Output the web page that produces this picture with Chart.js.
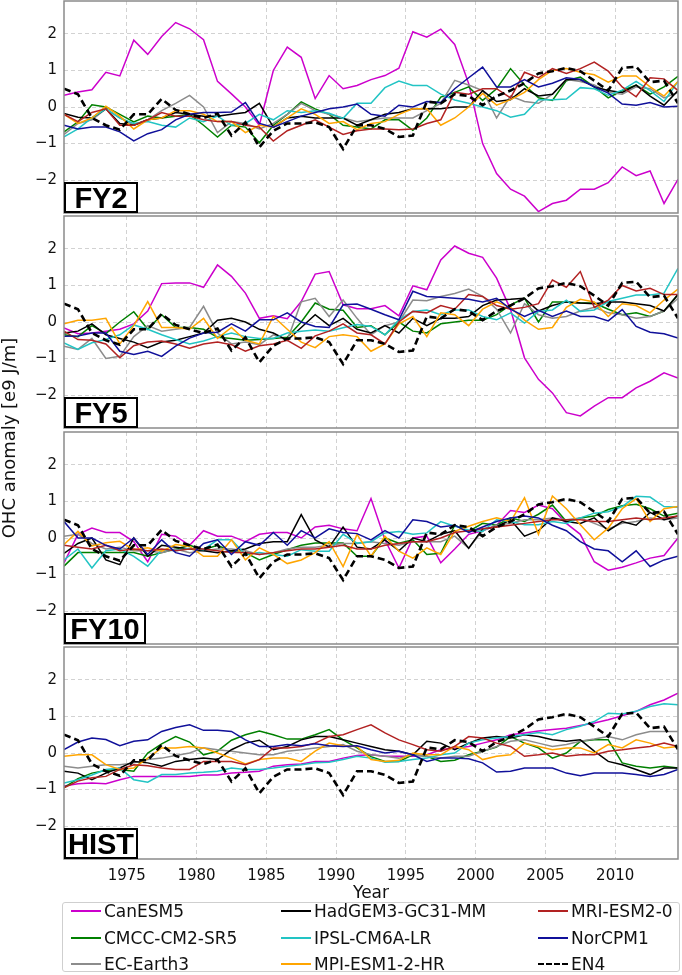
<!DOCTYPE html>
<html>
<head>
<meta charset="utf-8">
<script src="https://cdn.jsdelivr.net/npm/chart.js@4.4.1/dist/chart.umd.min.js"></script>
<style>
  body { margin: 0; background: #fff; font-family: "DejaVu Sans", sans-serif; }
  #wrap { position: relative; width: 682px; height: 975px; overflow: hidden; }
  #wrap canvas { position: absolute; left: 0; }
  .tag { position: absolute; left: 64px; height: 31px; box-sizing: border-box; border: 2px solid #000;
         background: #fff; font: bold 29px "Liberation Sans", sans-serif; line-height: 28px; text-align: center; z-index: 2; }
  #ylab { position: absolute; left: -141px; top: 427px; width: 300px; height: 22px; line-height: 22px;
          text-align: center; font-size: 18px; color: #111; transform: rotate(-90deg); }
  #legend { position: absolute; left: 62px; top: 902px; width: 618px; height: 70px; box-sizing: border-box;
            border: 1px solid #cfcfcf; border-radius: 3px; }
  .li { position: absolute; font-size: 17px; line-height: 22px; color: #111; white-space: nowrap; }
  .sw { position: absolute; width: 30px; height: 0; }
</style>
</head>
<body>
<div id="wrap">
  <canvas id="p0"></canvas>
  <canvas id="p1"></canvas>
  <canvas id="p2"></canvas>
  <canvas id="p3"></canvas>
  <div id="ylab">OHC anomaly [e9 J/m]</div>
  <div id="legend"></div>
</div>
<script>
const years = [1970.5, 1971.5, 1972.5, 1973.5, 1974.5, 1975.5, 1976.5, 1977.5, 1978.5, 1979.5,
  1980.5, 1981.5, 1982.5, 1983.5, 1984.5, 1985.5, 1986.5, 1987.5, 1988.5, 1989.5,
  1990.5, 1991.5, 1992.5, 1993.5, 1994.5, 1995.5, 1996.5, 1997.5, 1998.5, 1999.5,
  2000.5, 2001.5, 2002.5, 2003.5, 2004.5, 2005.5, 2006.5, 2007.5, 2008.5, 2009.5,
  2010.5, 2011.5, 2012.5, 2013.5, 2014.5];
const xTicks = [1975, 1980, 1985, 1990, 1995, 2000, 2005, 2010];
const yTicks = [-2, -1, 0, 1, 2];

const modelNames = ['CanESM5', 'CMCC-CM2-SR5', 'EC-Earth3', 'HadGEM3-GC31-MM', 'IPSL-CM6A-LR', 'MPI-ESM1-2-HR', 'MRI-ESM2-0', 'NorCPM1'];
const modelColors = ['#cc00cc', '#008000', '#8c8c8c', '#000000', '#22c4c4', '#ffa500', '#b22222', '#10109a'];
const panelTags = ['FY2', 'FY5', 'FY10', 'HIST'];

// observations (same in every panel)
const en4 = [0.5, 0.35, -0.3, -0.5, -0.62, -0.2, -0.2, 0.22, -0.08, -0.2, -0.3, -0.18, -0.78, -0.42, -1.1,
  -0.65, -0.45, -0.45, -0.42, -0.55, -1.15, -0.5, -0.5, -0.6, -0.82, -0.78, 0.15, 0.1, 0.35, 0.3,
  0.05, 0.3, 0.45, 0.65, 0.92, 0.98, 1.07, 0.98, 0.72, 0.45, 1.07, 1.1, 0.68, 0.72, 0.1];

// FY2
const fy2_CanESM5 = [0.32, 0.41, 0.47, 0.95, 0.85, 1.83, 1.44, 1.93, 2.31, 2.14, 1.84, 0.70, 0.36, 0.0, -0.5,
  1.0, 1.64, 1.36, 0.23, 0.86, 0.5, 0.59, 0.75, 0.86, 1.06, 2.06, 1.91, 2.13, 1.71, 0.64,
  -1.0, -1.82, -2.25, -2.44, -2.86, -2.64, -2.55, -2.25, -2.25, -2.07, -1.64, -1.88, -1.75, -2.64, -1.98];
const fy2_CMCC = [-0.68, -0.41, 0.06, 0.0, -0.2, -0.41, -0.25, -0.3, -0.25, -0.2, -0.5, -0.82, -0.5, -0.55, -0.98,
  -0.5, -0.2, 0.14, -0.05, -0.2, -0.5, -0.55, -0.6, -0.35, -0.35, -0.64, -0.3, 0.27, 0.4, 0.55,
  0.18, 0.5, 1.05, 0.6, 0.25, 0.18, 0.72, 0.82, 0.55, 0.25, 0.45, 0.6, 0.35, 0.55, 0.84];
const fy2_EC = [-0.75, -0.45, -0.35, -0.05, -0.3, -0.5, -0.35, -0.1, 0.1, 0.32, 0.0, -0.7, -0.4, -0.45, -0.6,
  -0.45, -0.2, 0.1, -0.1, -0.2, -0.3, -0.4, -0.35, -0.3, -0.3, -0.3, -0.1, 0.1, 0.73, 0.6,
  0.45, -0.3, 0.3, 0.15, 0.1, 0.35, 0.75, 0.7, 0.6, 0.4, 0.35, 0.55, 0.5, 0.25, 0.4];
const fy2_Had = [-0.18, -0.28, -0.3, -0.05, -0.45, -0.5, -0.35, -0.3, -0.15, -0.2, -0.25, -0.25, -0.2, -0.15, 0.1,
  -0.55, -0.3, -0.25, -0.3, -0.3, -0.3, -0.5, -0.35, -0.2, -0.15, -0.05, -0.05, -0.05, 0.0, 0.0,
  0.45, 0.15, 0.2, 0.5, 0.3, 0.35, 0.75, 0.75, 0.55, 0.45, 0.4, 0.6, 0.3, 0.05, 0.45];
const fy2_IPSL = [-0.82, -0.6, -0.3, -0.05, -0.3, -0.45, -0.4, -0.5, -0.55, -0.3, -0.4, -0.25, -0.5, -0.45, -0.2,
  -0.35, -0.1, -0.15, -0.1, -0.17, -0.31, 0.1, 0.1, 0.53, 0.71, 0.59, 0.59, 0.35, 0.19, 0.1,
  0.0, -0.1, -0.28, -0.2, 0.2, 0.2, 0.22, 0.53, 0.5, 0.32, 0.46, 0.7, 0.45, 0.15, 0.7];
const fy2_MPI = [-0.2, -0.45, -0.3, 0.02, -0.25, -0.6, -0.35, -0.3, -0.1, -0.1, -0.2, -0.4, -0.4, -0.7, -0.5,
  -0.55, -0.3, -0.05, -0.2, -0.45, -0.4, -0.62, -0.45, -0.4, -0.2, -0.05, -0.05, -0.5, -0.3, 0.0,
  0.37, 0.05, 0.2, 0.4, 0.75, 1.0, 1.05, 0.95, 0.88, 0.68, 0.85, 0.85, 0.55, 0.3, 0.7];
const fy2_MRI = [-0.2, -0.4, -0.15, -0.05, -0.5, -0.5, -0.35, -0.15, -0.25, -0.25, -0.35, -0.4, -0.4, -0.5, -0.55,
  -0.93, -0.65, -0.5, -0.35, -0.55, -0.75, -0.65, -0.6, -0.6, -0.62, -0.6, -0.45, -0.35, 0.4, 0.35,
  0.5, 0.5, 0.25, 0.95, 0.8, 1.05, 0.92, 1.05, 1.23, 0.98, 0.55, 0.28, 0.8, 0.77, 0.45];
const fy2_Nor = [-0.5, -0.6, -0.55, -0.55, -0.68, -0.93, -0.73, -0.62, -0.35, -0.2, -0.15, -0.15, -0.14, 0.12, -0.45,
  -0.55, -0.4, -0.25, -0.15, -0.05, 0.0, 0.08, -0.2, -0.25, 0.05, 0.0, 0.15, 0.12, 0.5, 0.8,
  1.09, 0.55, 0.55, 0.75, 0.55, 0.65, 0.8, 0.75, 0.55, 0.38, 0.08, 0.05, 0.12, 0.0, 0.02];

// FY5
const fy5_CanESM5 = [-0.16, -0.32, -0.3, -0.25, -0.2, -0.05, 0.3, 1.05, 1.07, 1.07, 0.95, 1.56, 1.25, 0.79, 0.1,
  0.17, 0.09, 0.56, 1.31, 1.38, 0.47, 0.36, 0.36, 0.45, 0.17, 0.99, 0.88, 1.7, 2.08, 1.88,
  1.77, 1.2, 0.34, -0.98, -1.57, -1.94, -2.48, -2.57, -2.3, -2.07, -2.07, -1.8, -1.62, -1.39, -1.53];
const fy5_CMCC = [-0.35, -0.4, -0.1, -0.32, 0.0, 0.28, -0.2, 0.2, -0.15, -0.15, -0.2, -0.42, -0.45, -0.5, -0.48,
  -0.45, -0.42, 0.0, 0.52, 0.35, 0.32, -0.15, -0.1, -0.35, 0.0, -0.25, -0.3, -0.05, 0.0, 0.05,
  0.05, 0.2, 0.47, 0.65, 0.0, 0.55, 0.55, 0.52, 0.52, 0.35, 0.2, 0.25, 0.15, 0.3, 0.75];
const fy5_EC = [-0.66, -0.75, -0.45, -1.0, -0.94, -0.4, -0.1, -0.25, -0.2, -0.15, 0.43, -0.3, -0.6, -0.55, -0.62,
  -0.35, -0.5, 0.55, 0.65, 0.15, 0.6, 0.1, -0.35, -0.1, 0.0, 0.6, 0.58, 0.7, 0.78, 0.9,
  0.7, 0.35, -0.3, 0.5, 0.2, 0.1, 0.15, 0.3, 0.4, 0.25, 0.2, 0.1, 0.15, 0.3, 0.65];
const fy5_Had = [-0.3, -0.25, -0.05, -0.35, -0.45, -0.55, -0.7, -0.55, -0.5, -0.4, -0.3, 0.05, 0.1, 0.0, -0.2,
  -0.3, -0.5, -0.15, 0.2, -0.1, 0.1, -0.2, -0.3, -0.1, -0.3, 0.1, -0.1, 0.1, 0.1, 0.15,
  0.45, 0.6, 0.62, 0.65, 0.3, 0.45, 0.55, 0.52, 0.5, 0.55, 0.55, 0.5, 0.45, 0.3, 0.75];
const fy5_IPSL = [-0.57, -0.75, -0.57, -0.48, -0.35, -0.08, -0.2, -0.35, -0.48, -0.6, -0.52, -0.4, -0.3, -0.4, -0.45,
  -0.45, -0.3, -0.25, -0.22, -0.25, -0.16, -0.07, -0.12, -0.35, 0.06, 0.29, 0.33, 0.2, 0.33, 0.33,
  0.15, 0.06, 0.25, -0.03, 0.29, 0.33, 0.6, 0.29, 0.33, 0.56, 0.65, 0.74, 0.74, 0.79, 1.47];
const fy5_MPI = [-0.05, 0.05, 0.05, 0.1, -0.6, -0.1, 0.56, -0.15, -0.15, -0.2, 0.1, -0.45, -0.15, -0.5, -0.6,
  0.15, -0.2, -0.55, -0.7, -0.4, -0.35, -0.4, -0.8, -0.6, -0.05, 0.15, -0.4, 0.25, 0.2, -0.1,
  0.35, 0.55, 0.4, 0.05, -0.2, -0.15, 0.4, 0.62, 0.55, 0.15, 0.5, 0.45, 0.25, 0.6, 0.9];
const fy5_MRI = [-0.25, -0.48, -0.5, -0.6, -0.98, -0.65, -0.55, -0.52, -0.6, -0.72, -0.6, -0.55, -0.62, -0.8, -0.65,
  -0.6, -0.5, -0.72, -0.38, -0.25, -0.05, -0.3, -0.35, -0.6, 0.0, 0.29, 0.25, 0.45, 0.35, 0.75,
  0.7, 0.45, 0.35, 0.4, 0.5, 1.15, 0.95, 1.38, 0.4, 0.6, 1.0, 0.85, 0.92, 0.75, 0.75];
const fy5_Nor = [-0.39, -0.38, -0.3, -0.3, -0.8, -0.89, -0.8, -0.94, -0.66, -0.44, -0.3, -0.28, -0.05, -0.25, 0.06,
  0.06, 0.25, 0.0, -0.12, -0.15, 0.47, 0.49, 0.35, 0.2, 0.06, 0.84, 0.7, 0.68, 0.65, 0.62,
  0.55, 0.65, 0.35, 0.15, 0.32, 0.15, 0.3, 0.15, 0.15, 0.03, 0.34, -0.12, -0.28, -0.32, -0.44];

// FY10
const fy10_CanESM5 = [-0.68, 0.1, 0.27, 0.15, 0.15, -0.1, -0.65, 0.1, 0.05, -0.2, 0.2, 0.05, 0.05, -0.1, 0.1,
  0.15, 0.15, 0.0, 0.3, 0.35, 0.25, 0.2, 1.08, -0.05, -0.82, 0.0, 0.05, -0.68, -0.3, 0.1,
  0.2, 0.35, 0.75, 0.7, 0.9, 0.8, 0.4, 0.1, -0.65, -0.88, -0.8, -0.68, -0.55, -0.48, 0.0];
const fy10_CMCC = [-0.77, -0.4, -0.4, -0.4, -0.4, -0.4, -0.5, -0.4, -0.3, -0.2, -0.32, -0.2, -0.37, -0.4, -0.6,
  -0.45, -0.32, -0.2, -0.14, -0.14, -0.14, -0.5, -0.5, 0.0, -0.14, -0.05, -0.45, -0.42, 0.35, 0.18,
  0.4, 0.35, 0.55, 0.45, 0.65, 0.9, 0.45, 0.55, 0.6, 0.78, 0.88, 0.92, 0.8, 0.6, 0.68];
const fy10_EC = [0.05, 0.1, -0.15, -0.3, -0.25, -0.35, -0.35, -0.4, -0.3, -0.4, -0.35, -0.3, -0.3, -0.35, -0.45,
  -0.4, -0.3, -0.25, -0.25, -0.2, -0.15, -0.15, -0.1, -0.15, -0.2, -0.1, -0.1, -0.1, 0.05, -0.28,
  0.2, 0.35, 0.4, 0.5, 0.5, 0.55, 0.5, 0.55, 0.4, 0.25, 0.4, 0.45, 0.55, 0.5, 0.55];
const fy10_Had = [-0.42, -0.15, 0.0, -0.6, -0.73, 0.0, -0.5, -0.2, -0.25, -0.3, -0.35, -0.4, -0.35, -0.3, -0.15,
  -0.1, -0.1, 0.64, -0.05, -0.25, 0.3, -0.25, -0.3, -0.05, -0.35, 0.0, -0.1, 0.1, 0.2, -0.28,
  0.25, 0.3, 0.5, 0.05, 0.2, 0.55, 0.45, 0.4, 0.55, 0.2, 0.45, 0.35, 0.7, 0.5, 0.6];
const fy10_IPSL = [-0.6, -0.3, -0.82, -0.35, -0.3, -0.5, -0.77, -0.32, -0.35, -0.28, -0.32, -0.05, -0.05, -0.45, -0.4,
  -0.45, -0.5, -0.32, -0.36, -0.36, 0.1, -0.14, -0.1, 0.14, 0.18, 0.1, 0.14, 0.45, 0.32, 0.22,
  0.18, 0.5, 0.45, 0.36, 0.36, 0.45, 0.4, 0.55, 0.68, 0.72, 0.86, 1.14, 1.12, 0.86, 0.84];
const fy10_MPI = [-0.18, 0.18, -0.22, -0.13, -0.09, -0.32, -0.27, -0.36, -0.18, -0.23, -0.5, -0.5, -0.05, -0.6, -0.27,
  -0.45, -0.7, -0.6, -0.4, -0.1, -0.78, 0.1, -0.5, 0.05, -0.36, -0.55, -0.27, -0.45, 0.18, 0.32,
  0.45, 0.55, 0.45, 1.1, 0.1, 1.15, 0.8, 0.36, -0.05, 0.27, 0.8, 1.08, 0.45, 0.8, 0.86];
const fy10_MRI = [-0.2, -0.25, -0.3, -0.2, -0.35, -0.3, -0.35, -0.3, -0.35, -0.3, -0.3, -0.35, -0.4, -0.4, -0.45,
  -0.4, -0.35, -0.3, -0.3, -0.25, -0.2, -0.3, -0.3, -0.2, -0.15, -0.1, -0.1, 0.0, 0.15, 0.2,
  0.25, 0.3, 0.35, 0.4, 0.45, 0.5, 0.5, 0.5, 0.45, 0.45, 0.5, 0.55, 0.5, 0.55, 0.6];
const fy10_Nor = [0.45, 0.0, 0.0, -0.2, -0.3, 0.0, -0.45, -0.05, -0.4, -0.5, -0.15, -0.05, -0.45, -0.1, -0.2,
  0.15, -0.2, 0.2, 0.0, 0.25, 0.15, 0.12, -0.05, 0.2, 0.0, 0.5, 0.45, 0.3, 0.35, 0.15,
  0.3, 0.45, 0.55, 0.6, 0.55, 0.35, 0.2, -0.1, -0.3, -0.35, -0.65, -0.35, -0.78, -0.6, -0.5];

// HIST
const hist_CanESM5 = [-0.9, -0.84, -0.82, -0.84, -0.73, -0.64, -0.64, -0.64, -0.64, -0.64, -0.6, -0.6, -0.55, -0.53, -0.5,
  -0.36, -0.32, -0.3, -0.23, -0.23, -0.14, -0.07, -0.05, -0.09, -0.09, -0.09, -0.05, 0.09, 0.14, 0.18,
  0.27, 0.36, 0.5, 0.55, 0.6, 0.64, 0.68, 0.75, 0.82, 0.91, 1.02, 1.14, 1.32, 1.45, 1.64];
const hist_CMCC = [-0.95, -0.7, -0.55, -0.48, -0.45, -0.5, 0.0, 0.25, 0.45, 0.3, -0.05, 0.05, 0.35, 0.5, 0.6,
  0.5, 0.38, 0.38, 0.5, 0.64, 0.36, 0.14, -0.1, -0.23, -0.23, -0.05, -0.09, -0.23, -0.2, -0.05,
  0.05, 0.16, 0.45, 0.27, 0.14, -0.14, 0.0, 0.32, 0.36, 0.36, -0.27, -0.36, -0.41, -0.36, -0.41];
const hist_EC = [-0.36, -0.41, -0.36, -0.32, -0.32, -0.27, -0.18, -0.14, -0.07, 0.0, 0.14, 0.09, 0.05, 0.0, -0.05,
  -0.05, 0.05, 0.09, 0.14, 0.18, 0.23, 0.05, -0.05, -0.09, -0.14, -0.05, -0.09, -0.14, -0.09, -0.09,
  0.05, 0.18, 0.32, 0.36, 0.27, 0.18, 0.23, 0.32, 0.38, 0.45, 0.36, 0.5, 0.59, 0.59, 0.59];
const hist_Had = [-0.5, -0.55, -0.73, -0.55, -0.41, -0.23, -0.27, -0.36, -0.23, -0.18, -0.14, -0.18, 0.09, 0.27, 0.35,
  0.09, 0.18, 0.36, 0.45, 0.45, 0.36, 0.27, 0.18, 0.09, 0.05, -0.05, 0.32, 0.27, 0.09, 0.27,
  0.41, 0.45, 0.41, 0.5, 0.45, 0.36, 0.32, 0.36, 0.05, -0.23, -0.32, -0.45, -0.59, -0.41, -0.41];
const hist_IPSL = [-0.82, -0.73, -0.6, -0.45, -0.41, -0.73, -0.8, -0.59, -0.59, -0.55, -0.53, -0.5, -0.41, -0.45, -0.45,
  -0.41, -0.36, -0.32, -0.27, -0.25, -0.18, -0.09, -0.14, -0.25, -0.23, -0.18, -0.14, -0.05, 0.0, 0.27,
  0.36, 0.41, 0.45, 0.5, 0.56, 0.5, 0.64, 0.73, 0.86, 1.09, 1.07, 1.14, 1.27, 1.35, 1.32];
const hist_MPI = [-0.09, -0.05, -0.05, -0.32, -0.45, -0.41, -0.14, 0.14, 0.14, 0.18, 0.14, 0.0, -0.14, -0.3, -0.18,
  -0.14, -0.14, -0.23, 0.05, 0.27, 0.2, 0.18, -0.18, -0.23, -0.2, 0.0, -0.05, -0.05, 0.18, 0.09,
  -0.18, -0.09, -0.05, 0.27, 0.18, 0.09, 0.14, 0.14, 0.0, 0.23, 0.14, 0.36, 0.27, 0.14, 0.18];
const hist_MRI = [-0.95, -0.77, -0.68, -0.64, -0.45, -0.32, -0.35, -0.41, -0.45, -0.45, -0.23, -0.23, -0.23, -0.32, -0.18,
  0.14, 0.14, 0.18, 0.27, 0.45, 0.5, 0.64, 0.77, 0.55, 0.36, 0.23, 0.09, 0.05, 0.18, 0.45,
  0.41, 0.27, 0.18, -0.09, -0.05, 0.0, -0.09, -0.05, -0.05, 0.05, 0.09, 0.14, 0.18, 0.27, 0.18];
const hist_Nor = [0.09, 0.3, 0.41, 0.37, 0.2, 0.32, 0.36, 0.59, 0.7, 0.77, 0.62, 0.62, 0.59, 0.36, 0.18,
  0.18, 0.23, 0.2, 0.25, 0.2, 0.18, 0.2, 0.09, 0.0, 0.05, -0.05, -0.23, -0.14, -0.14, -0.16,
  -0.27, -0.52, -0.5, -0.41, -0.41, -0.41, -0.55, -0.62, -0.55, -0.55, -0.55, -0.59, -0.64, -0.59, -0.45];

const panelSeries = [
  [fy2_CanESM5, fy2_CMCC, fy2_EC, fy2_Had, fy2_IPSL, fy2_MPI, fy2_MRI, fy2_Nor],
  [fy5_CanESM5, fy5_CMCC, fy5_EC, fy5_Had, fy5_IPSL, fy5_MPI, fy5_MRI, fy5_Nor],
  [fy10_CanESM5, fy10_CMCC, fy10_EC, fy10_Had, fy10_IPSL, fy10_MPI, fy10_MRI, fy10_Nor],
  [hist_CanESM5, hist_CMCC, hist_EC, hist_Had, hist_IPSL, hist_MPI, hist_MRI, hist_Nor]
];

// layout of the four stacked panels (plot area top, height)
const panelTop = [1, 216, 432, 647];
const panelH = 212;
const xAxisH = 47;

const frame = {
  id: 'frame',
  afterDraw(chart) {
    const { ctx, chartArea: a } = chart;
    ctx.save();
    ctx.strokeStyle = '#8a8a8a';
    ctx.lineWidth = 1.5;
    ctx.strokeRect(a.left, a.top, a.right - a.left, a.bottom - a.top);
    ctx.restore();
  }
};

const toXY = arr => arr.map((v, i) => ({ x: years[i], y: v }));
const minus = v => (v < 0 ? '\u2212' + Math.abs(v) : String(v));
const noPad = s => { s.paddingTop = 0; s.paddingBottom = 0; s.paddingLeft = 0; s.paddingRight = 0; };

function drawPanel(k) {
  const last = k === 3;
  const canvas = document.getElementById('p' + k);
  const h = panelH + 1 + (last ? xAxisH : 1);
  canvas.width = 682;
  canvas.height = h;
  canvas.style.top = (panelTop[k] - 1) + 'px';
  canvas.style.width = '682px';
  canvas.style.height = h + 'px';

  const datasets = panelSeries[k].map((vals, m) => ({
    label: modelNames[m],
    data: toXY(vals),
    borderColor: modelColors[m],
    borderWidth: 1.5,
    order: 8 - m
  }));
  datasets.push({ label: 'EN4', data: toXY(en4), borderColor: '#000', borderWidth: 2.6, borderDash: [7, 4], order: 0 });

  new Chart(canvas.getContext('2d'), {
    type: 'line',
    data: { datasets },
    options: {
      responsive: false,
      animation: false,
      devicePixelRatio: 1,
      layout: { padding: { left: 0, right: 4, top: 1, bottom: last ? 0 : 1 } },
      elements: { point: { radius: 0 }, line: { tension: 0 } },
      plugins: { legend: { display: false }, tooltip: { enabled: false } },
      scales: {
        x: {
          type: 'linear', min: 1970.5, max: 2014.5,
          afterBuildTicks: s => { s.ticks = xTicks.map(v => ({ value: v })); },
          afterFit: s => { s.height = last ? xAxisH : 0; noPad(s); },
          grid: { color: '#d2d2d2', lineWidth: 1, drawTicks: false },
          border: { display: false, dash: [4, 3] },
          ticks: { display: last, padding: 8, color: '#111', font: { family: 'DejaVu Sans', size: 15 }, callback: v => String(v) },
          title: { display: last, text: 'Year', color: '#111', font: { family: 'DejaVu Sans', size: 17 }, padding: { top: 0, bottom: 2 } }
        },
        y: {
          min: -2.9, max: 2.9,
          afterBuildTicks: s => { s.ticks = yTicks.map(v => ({ value: v })); },
          afterFit: s => { s.width = 64; noPad(s); },
          grid: { color: '#d2d2d2', lineWidth: 1, drawTicks: false },
          border: { display: false, dash: [4, 3] },
          ticks: { padding: 7, color: '#111', font: { family: 'DejaVu Sans', size: 15 }, callback: minus }
        }
      }
    },
    plugins: [frame]
  });

  const tag = document.createElement('div');
  tag.className = 'tag';
  tag.textContent = panelTags[k];
  tag.style.top = (panelTop[k] + panelH - 31) + 'px';
  tag.style.width = (panelTags[k] === 'FY10' ? 82 : 74) + 'px';
  document.getElementById('wrap').appendChild(tag);
}

for (let k = 0; k < 4; k++) drawPanel(k);

// legend, column-major like the original
const legendOrder = [
  ['CanESM5', 'CMCC-CM2-SR5', 'EC-Earth3'],
  ['HadGEM3-GC31-MM', 'IPSL-CM6A-LR', 'MPI-ESM1-2-HR'],
  ['MRI-ESM2-0', 'NorCPM1', 'EN4']
];
const colX = [8, 218, 475];
const rowY = [8, 35, 61];
const legend = document.getElementById('legend');
legendOrder.forEach((col, c) => col.forEach((name, r) => {
  const idx = modelNames.indexOf(name);
  const sw = document.createElement('div');
  sw.className = 'sw';
  sw.style.left = colX[c] + 'px';
  sw.style.top = (rowY[r] - 1) + 'px';
  sw.style.borderTop = idx < 0 ? '2px dashed #000' : '2px solid ' + modelColors[idx];
  legend.appendChild(sw);
  const t = document.createElement('div');
  t.className = 'li';
  t.textContent = name;
  t.style.left = (colX[c] + 33) + 'px';
  t.style.top = (rowY[r] - 11) + 'px';
  legend.appendChild(t);
}));
</script>
</body>
</html>
